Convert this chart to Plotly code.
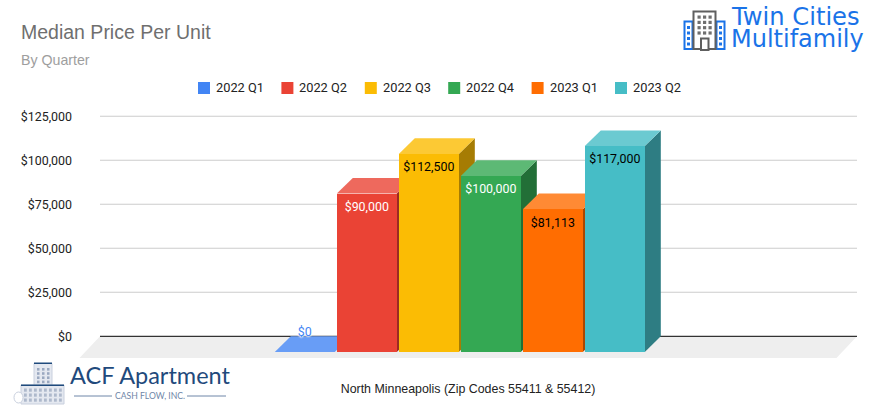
import plotly.graph_objects as go

# ---- data ----
quarters = ["2022 Q1", "2022 Q2", "2022 Q3", "2022 Q4", "2023 Q1", "2023 Q2"]
prices = [0, 90000, 112500, 100000, 81113, 117000]
price_labels = ["$0", "$90,000", "$112,500", "$100,000", "$81,113", "$117,000"]
tick_values = [0, 25000, 50000, 75000, 100000, 125000]
tick_labels = ["$0", "$25,000", "$50,000", "$75,000", "$100,000", "$125,000"]

# ---- styles ----
front_colors = ["#4285f4", "#ea4335", "#fbbc04", "#34a853", "#ff6d01", "#46bdc6"]
top_colors = ["#689df6", "#ee695d", "#fcc934", "#5db975", "#ff8a34", "#6bcad1"]
side_colors = ["#2c58a1", "#9a2c23", "#a67c03", "#226f37", "#a84801", "#2e7d83"]
label_colors = ["#4285f4", "#ffffff", "#000000", "#ffffff", "#000000", "#000000"]

W, H = 878, 417
L, R, T, B = 79, 21, 100, 59
PX_PER_SLOT = 62.0
PX_PER_VALUE = 44.0 / 25000
Y0_PX = 336.3
SLOT0_PX = 304.8
DX = 16 / PX_PER_SLOT
DY = 15.6 / PX_PER_VALUE
BAR_W = 60 / PX_PER_SLOT


def px_x(p):
    return (p - L) / (W - L - R)


def px_y(p):
    return 1 - (p - T) / (H - T - B)


x_range = [(L - SLOT0_PX) / PX_PER_SLOT, (W - R - SLOT0_PX) / PX_PER_SLOT]
y_range = [(Y0_PX - (H - B)) / PX_PER_VALUE, (Y0_PX - T) / PX_PER_VALUE]
wall_left = (100 - SLOT0_PX) / PX_PER_SLOT
wall_right = (857 - SLOT0_PX) / PX_PER_SLOT


def poly(points):
    return "M" + " L".join(f"{a},{b}" for a, b in points) + " Z"


shapes = []
# floor
shapes.append(dict(type="path", layer="below", xref="x", yref="y", line_width=0, fillcolor="#eeeeee",
                   path=poly([(wall_left, 0), (wall_right, 0),
                              (wall_right - 20.5 / PX_PER_SLOT, y_range[0]),
                              (wall_left - 20.5 / PX_PER_SLOT, y_range[0])])))
# grid
for v in tick_values:
    shapes.append(dict(type="line", layer="below", xref="x", yref="y", x0=wall_left, x1=wall_right, y0=v, y1=v,
                       line=dict(color="#333333" if v == 0 else "#cccccc", width=1.2 if v == 0 else 1.1)))
# side and top faces
for i, v in enumerate(prices):
    xl, xr = i - BAR_W / 2, i + BAR_W / 2
    if v > 0:
        shapes.append(dict(type="path", layer="below", xref="x", yref="y", line_width=0, fillcolor=side_colors[i],
                           path=poly([(xr, -DY), (xr + DX, 0), (xr + DX, v), (xr, v - DY)])))
    shapes.append(dict(type="path", layer="below", xref="x", yref="y", line_width=0, fillcolor=top_colors[i],
                       path=poly([(xl, v - DY), (xl + DX, v), (xr + DX, v), (xr, v - DY)])))

# ---- logo: Twin Cities Multifamily ----
BLUE = "#1a73e8"
GREY = "#5f5f5f"


def rect(x0, y0, x1, y1, fill=None, line=None, lw=0):
    return dict(type="rect", xref="paper", yref="paper", layer="above",
                x0=px_x(x0), x1=px_x(x1), y0=px_y(y0), y1=px_y(y1),
                fillcolor=fill if fill else "rgba(0,0,0,0)",
                line=dict(color=line if line else "rgba(0,0,0,0)", width=lw))


shapes.append(rect(684.5, 21.5, 692.5, 49, "#ffffff", BLUE, 2))
shapes.append(rect(716.5, 21.5, 724.5, 49, "#ffffff", BLUE, 2))
shapes.append(rect(693.5, 11.5, 715.5, 49, "#ffffff", GREY, 2))
shapes.append(rect(701, 38.5, 708.5, 50, "#ffffff", GREY, 2))
for row in range(4):
    for col in range(3):
        x = 697.5 + col * 5.5
        y = 15.5 + row * 5.3
        shapes.append(rect(x, y, x + 3.2, y + 3.2, "#6f6f6f"))
for row in range(4):
    y = 26 + row * 5.5
    shapes.append(rect(687, y, 690, y + 3, BLUE))
    shapes.append(rect(719, y, 722, y + 3, BLUE))

# ---- logo: ACF ----
NAVY = "#1f4a7c"
SLATE = "#c9d0de"
shapes.append(rect(34, 363.5, 52, 400, "#e4e8f0", SLATE, 1))
shapes.append(rect(21, 385, 64, 404, "#e4e8f0", SLATE, 1))
shapes.append(dict(type="circle", xref="paper", yref="paper", layer="above",
                   x0=px_x(14), x1=px_x(23), y0=px_y(392), y1=px_y(403),
                   fillcolor="#ffffff", line=dict(color=SLATE, width=1)))
shapes.append(rect(34, 362.5, 52, 364, NAVY))
shapes.append(rect(21, 384.5, 64, 386, NAVY))
for row in range(4):
    y = 368 + row * 4.2
    for col in range(3):
        shapes.append(rect(37 + col * 5, y, 39.5 + col * 5, y + 2.6, "#9aa8c0"))
for row in range(3):
    y = 388.5 + row * 5
    for col in range(8):
        shapes.append(rect(24 + col * 5, y, 26.8 + col * 5, y + 3.2, "#aeb9cc"))
for x0, x1 in [(74, 112), (187, 226)]:
    shapes.append(dict(type="line", xref="paper", yref="paper", layer="above",
                       x0=px_x(x0), x1=px_x(x1), y0=px_y(396), y1=px_y(396),
                       line=dict(color="#6f86a8", width=1)))


def note(text, x, y, size, color, family, anchor="left"):
    return dict(text=text, xref="paper", yref="paper", x=px_x(x), y=px_y(y), showarrow=False,
                xanchor=anchor, yanchor="middle", align=anchor, borderpad=0, borderwidth=0,
                font=dict(size=size, color=color, family=family))


annotations = [
    note("Median Price Per Unit", 21, 32, 19.5, "#6f6f6f", "Liberation Sans, Arial"),
    note("By Quarter", 21, 60, 14.2, "#9e9e9e", "Liberation Sans, Arial"),
    note("Twin Cities", 731, 17, 24.2, BLUE, "DejaVu Sans"),
    note("Multifamily", 731, 39, 24, BLUE, "DejaVu Sans"),
    note("ACF Apartment", 69.5, 375, 23.5, NAVY, "Lato"),
    note("CASH FLOW, INC.", 115, 396, 8.6, "#6f86a8", "Lato"),
]

# legend drawn in the reference's own tight spacing
for i, q in enumerate(quarters):
    left = 198 + i * 83.4
    shapes.append(rect(left, 82, left + 12, 94, front_colors[i]))
    annotations.append(note(q, left + 18, 88, 12.8, "#222222", "Roboto"))

fig = go.Figure()
for i, q in enumerate(quarters):
    fig.add_trace(go.Bar(x=[i], y=[prices[i]], base=-DY, width=BAR_W, name=q, showlegend=False,
                         marker=dict(color=front_colors[i], line_width=0), hoverinfo="skip"))

fig.add_trace(go.Scatter(
    x=list(range(1, len(prices))),
    y=[v - DY - 14.3 / PX_PER_VALUE for v in prices[1:]],
    text=price_labels[1:], mode="text", textposition="middle center", showlegend=False, hoverinfo="skip",
    textfont=dict(family="Roboto", size=12.4, color=label_colors[1:])))
fig.add_trace(go.Scatter(
    x=[0], y=[prices[0] + 3 / PX_PER_VALUE], text=price_labels[:1], mode="text", textposition="middle center",
    showlegend=False, hoverinfo="skip",
    textfont=dict(family="Roboto", size=12.4, color=label_colors[0],
                  shadow="0 0 2px #fff, 0 0 2px #fff, 0 0 2px #fff, 0 0 2px #fff")))

fig.update_layout(
    width=W, height=H, margin=dict(l=L, r=R, t=T, b=B, pad=0), autosize=False,
    paper_bgcolor="#ffffff", plot_bgcolor="rgba(0,0,0,0)",
    barmode="overlay", bargap=0, shapes=shapes, annotations=annotations, showlegend=False,
    font=dict(family="Roboto", size=12, color="#222222"),
    xaxis=dict(range=x_range, showgrid=False, zeroline=False, showticklabels=False, ticks="", showline=False,
               title=dict(text="North Minneapolis (Zip Codes 55411 & 55412)", standoff=26,
                          font=dict(family="Liberation Sans, Arial", size=12.4, color="#222222"))),
    yaxis=dict(range=y_range, showgrid=False, zeroline=False, showline=False, ticks="",
               tickmode="array", tickvals=tick_values, ticktext=tick_labels, ticklabelstandoff=6,
               tickfont=dict(family="Roboto", size=12.4, color="#222222")),
)

fig.write_html("out.html", config=dict(displayModeBar=False),
               post_script="document.body.style.margin='0';document.body.style.overflow='hidden';")
